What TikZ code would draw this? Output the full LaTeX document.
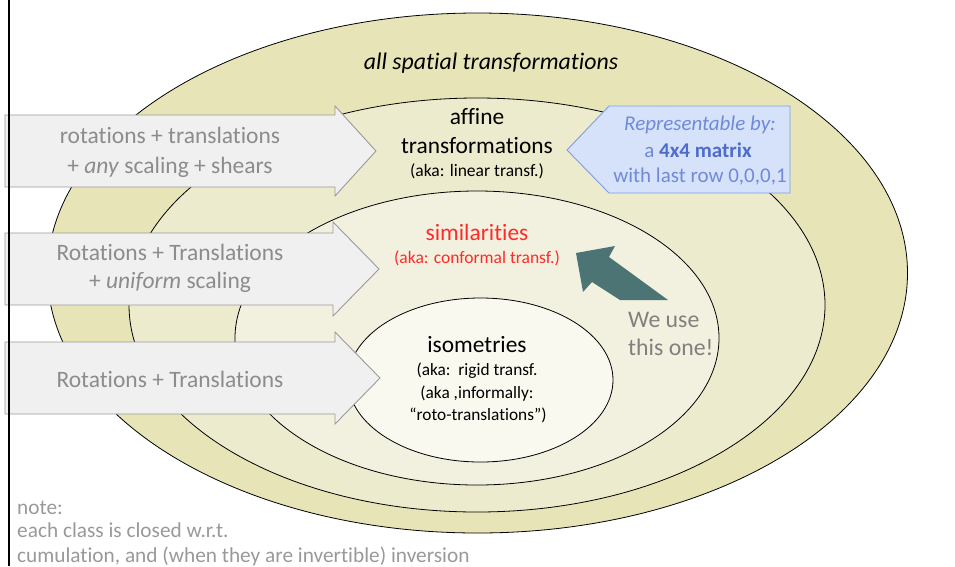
\documentclass[tikz,border=0pt]{standalone}
\usepackage{fontspec}
\setmainfont[Ligatures=NoCommon]{Carlito}
\definecolor{setA}{HTML}{E7E5B7}
\definecolor{setB}{HTML}{EDEBCD}
\definecolor{setC}{HTML}{F2F1DF}
\definecolor{setD}{HTML}{F9F9EF}
\definecolor{boxfill}{HTML}{F0F0F0}
\definecolor{boxline}{HTML}{9A9A9A}
\definecolor{boxtext}{HTML}{8C8C8C}
\definecolor{notetext}{HTML}{999999}
\definecolor{simred}{HTML}{FF2A2A}
\definecolor{callfill}{HTML}{D6E2FA}
\definecolor{callline}{HTML}{809CE2}
\definecolor{calltext}{HTML}{6F8AD8}
\definecolor{calldark}{HTML}{4E6CCB}
\definecolor{teal}{HTML}{4D7474}
\definecolor{useText}{HTML}{808080}
\newcommand{\fsz}[1]{\fontsize{#1}{#1}\selectfont}
\begin{document}
\begin{tikzpicture}[x=1pt,y=-1pt,
  setring/.style={draw=black,line width=0.8pt},
  blockarrow/.style={fill=boxfill,draw=boxline,line width=0.9pt},
  txt/.style={inner sep=0pt,anchor=base},
  armtxt/.style={txt,text=boxtext,font=\fsz{23.5}},
  notetxt/.style={txt,anchor=base west,text=notetext,font=\fsz{21.3}}]
\useasboundingbox (0,0) rectangle (955,566);

% nested classes of transformations
\draw[setring,fill=setA] (477.5,273) ellipse [x radius=430pt, y radius=260pt];
\draw[setring,fill=setB] (477,305) ellipse [x radius=348pt, y radius=207pt];
\draw[setring,fill=setC] (477,338) ellipse [x radius=242pt, y radius=147pt];
\draw[setring,fill=setD] (480.5,380) ellipse [x radius=132.5pt, y radius=82pt];

% class labels
\node[txt,font=\fsz{23.8}\itshape] (all) at (491,69) {all spatial transformations};
\node[txt,font=\fsz{23.4}] (aff1) at (477,124) {affine};
\node[txt,font=\fsz{23.4}] (aff2) at (477,153) {transformations};
\node[txt,font=\fsz{17.5}] (aff3) at (477,176) {(aka: linear transf.)};
\node[txt,font=\fsz{23.4},text=simred] (sim1) at (477,240) {similarities};
\node[txt,font=\fsz{17.5},text=simred] (sim2) at (477,263) {(aka: conformal transf.)};
\node[txt,font=\fsz{23.4}] (iso1) at (477,352) {isometries};
\node[txt,font=\fsz{17.3}] (iso2) at (477,375) {(aka:\ \ rigid transf.};
\node[txt,font=\fsz{17.3}] (iso3) at (477,398) {(aka ,informally:};
\node[txt,font=\fsz{17.3}] (iso4) at (478,420) {“roto-translations”)};

% block arrows pointing into each class
\draw[blockarrow] (5,115) -- (335,115) -- (335,106) -- (376,151) -- (335,196) -- (335,187) -- (5,187) -- cycle;
\draw[blockarrow] (5,233) -- (333,233) -- (333,222) -- (379,269) -- (333,316) -- (333,305) -- (5,305) -- cycle;
\draw[blockarrow] (5,342) -- (335,342) -- (335,332) -- (380,378) -- (335,424) -- (335,414) -- (5,414) -- cycle;

\node[armtxt] (r1a) at (170,143) {rotations + translations};
\node[armtxt] (r1b) at (170,173) {+ \textit{any} scaling + shears};
\node[armtxt] (r2a) at (170,260) {Rotations + Translations};
\node[armtxt] (r2b) at (170,288) {+ \textit{uniform} scaling};
\node[armtxt] (r3a) at (170,387) {Rotations + Translations};

% left margin rule
\draw[line width=2pt] (9,0) -- (9,566);

% representation callout
\draw[fill=callfill,draw=callline,line width=0.9pt]
  (567,150) -- (609,106) -- (790,106) -- (790,193) -- (609,193) -- cycle;
\node[txt,font=\fsz{21}\itshape,text=calltext] (rep1) at (700,130) {Representable by:};
\node[txt,font=\fsz{21},text=calltext] (rep2) at (698,157) {a \textbf{\textcolor{calldark}{4x4 matrix}}};
\node[txt,font=\fsz{21},text=calltext] (rep3) at (700,182) {with last row 0,0,0,1};

% pointer towards similarities
\fill[teal] (576,253) -- (615,246) -- (609,257) -- (668,300) -- (620,300) -- (592,282) -- (583,292) -- cycle;
\node[txt,anchor=base west,font=\fsz{23.8},text=useText] (use1) at (628,327) {We use};
\node[txt,anchor=base west,font=\fsz{23.8},text=useText] (use2) at (628,355) {this one!};

% footnote
\node[notetxt] (n1) at (17,514) {note:};
\node[notetxt] (n2) at (17,537) {each class is closed w.r.t.};
\node[notetxt] (n3) at (17,562) {cumulation, and (when they are invertible) inversion};
\end{tikzpicture}
\end{document}
